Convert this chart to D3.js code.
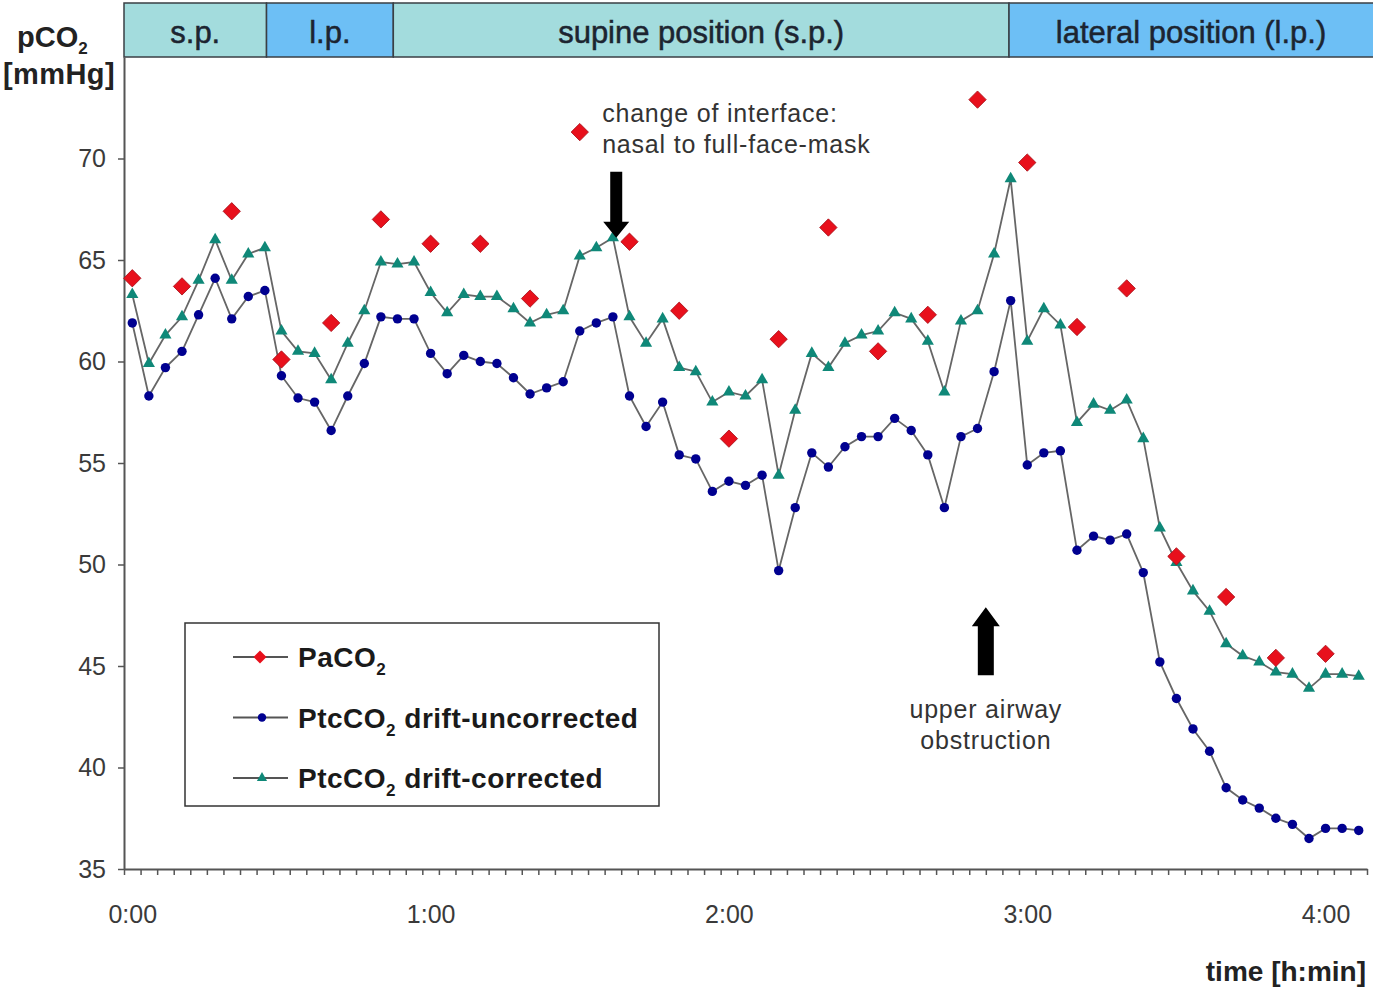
<!DOCTYPE html>
<html>
<head>
<meta charset="utf-8">
<script src="https://cdn.jsdelivr.net/npm/d3@7"></script>
<style>
body { margin: 0; background: #fff; }
svg { display: block; font-family: Arial, "Liberation Sans", sans-serif; }
</style>
</head>
<body>
<div id="wrapper"></div>
<script>
// PtcCO2 drift-uncorrected, one sample per category (200 s)
const uncorrected = [61.9, 58.3, 59.7, 60.5, 62.3, 64.1, 62.1, 63.2, 63.5, 59.3,
    58.2, 58.0, 56.6, 58.3, 59.9, 62.2, 62.1, 62.1, 60.4, 59.4,
    60.3, 60.0, 59.9, 59.2, 58.4, 58.7, 59.0, 61.5, 61.9, 62.2,
    58.3, 56.8, 58.0, 55.4, 55.2, 53.6, 54.1, 53.9, 54.4, 49.7,
    52.8, 55.5, 54.8, 55.8, 56.3, 56.3, 57.2, 56.6, 55.4, 52.8,
    56.3, 56.7, 59.5, 63.0, 54.9, 55.5, 55.6, 50.7, 51.4, 51.2,
    51.5, 49.6, 45.2, 43.4, 41.9, 40.8, 39.0, 38.4, 38.0, 37.5,
    37.2, 36.5, 37.0, 37.0, 36.9]

// PtcCO2 drift-corrected
const corrected = [63.3, 59.9, 61.3, 62.2, 64.0, 66.0, 64.0, 65.3, 65.6, 61.5,
    60.5, 60.4, 59.1, 60.9, 62.5, 64.9, 64.8, 64.9, 63.4, 62.4,
    63.3, 63.2, 63.2, 62.6, 61.9, 62.3, 62.5, 65.2, 65.6, 66.1,
    62.2, 60.9, 62.1, 59.7, 59.5, 58.0, 58.5, 58.3, 59.1, 54.4,
    57.6, 60.4, 59.7, 60.9, 61.3, 61.5, 62.4, 62.1, 61.0, 58.5,
    62.0, 62.5, 65.3, 69.0, 61.0, 62.6, 61.8, 57.0, 57.9, 57.6,
    58.1, 56.2, 51.8, 50.1, 48.7, 47.7, 46.1, 45.5, 45.2, 44.7,
    44.6, 43.9, 44.6, 44.6, 44.5]

// PaCO2 blood gas samples (sample index, value)
const paco2Index = [0, 3, 6, 9, 12, 15, 18, 21, 24, 27, 30, 33, 36, 39, 42, 45, 48, 51, 54, 57, 60, 63, 66, 69, 72]
const paco2 = [64.1, 63.7, 67.4, 60.1, 61.9, 67.0, 65.8, 65.8, 63.1, 71.3, 65.9, 62.5, 56.2, 61.1, 66.6, 60.5, 62.3, 72.9, 69.8, 61.7, 63.6, 50.4, 48.4, 45.4, 45.6]

const xTickIndex = [0, 18, 36, 54, 72]
const xTickLabels = ["0:00", "1:00", "2:00", "3:00", "4:00"]
const yTicks = [35, 40, 45, 50, 55, 60, 65, 70]

const positionLabels = ["s.p.", "l.p.", "supine position (s.p.)", "lateral position (l.p.)"]
const positionEdges = [-0.5, 8.1, 15.75, 52.9, 75.0]
const positionColors = ["#a3dcdd", "#6dbff5", "#a3dcdd", "#6dbff5"]

const seriesNames = ["PaCO", "PtcCO", "PtcCO"]
const seriesSuffix = ["", " drift-uncorrected", " drift-corrected"]

function drawChart() {
    const width = 1373
    const height = 989
    const left = 124, right = 1367, top = 57, bottom = 869

    const svg = d3.select("#wrapper")
        .append("svg")
        .attr("width", width)
        .attr("height", height)

    const xScale = d3.scaleLinear()
        .domain([-0.5, uncorrected.length - 0.5])
        .range([left, right])
    const yScale = d3.scaleLinear()
        .domain([35, 75])
        .range([bottom, top])

    // position band along the top
    const band = svg.append("g")
    const bandData = positionLabels.map((label, i) => ({
        label, x0: positionEdges[i], x1: positionEdges[i + 1], color: positionColors[i]
    }))
    band.selectAll("rect")
        .data(bandData)
        .join("rect")
        .attr("x", d => xScale(d.x0))
        .attr("y", 3)
        .attr("width", d => xScale(d.x1) - xScale(d.x0))
        .attr("height", top - 3)
        .attr("fill", d => d.color)
        .attr("stroke", "#3a3f44")
        .attr("stroke-width", 1.5)
    band.selectAll("text")
        .data(bandData)
        .join("text")
        .attr("x", d => (xScale(d.x0) + Math.min(xScale(d.x1), width)) / 2)
        .attr("y", 43)
        .attr("text-anchor", "middle")
        .attr("font-size", 31)
        .attr("fill", "#1c2430")
        .attr("stroke", "#1c2430")
        .attr("stroke-width", 0.5)
        .text(d => d.label)

    // axes
    const yAxis = svg.append("g")
        .attr("transform", `translate(${left},0)`)
        .call(d3.axisLeft(yScale).tickValues(yTicks).tickSize(6).tickSizeOuter(0).tickPadding(12))
    yAxis.select(".domain").attr("stroke", "#555").attr("stroke-width", 2)
    yAxis.selectAll(".tick line").attr("stroke", "#555").attr("stroke-width", 1.5)
    yAxis.selectAll(".tick text").attr("font-size", 25).attr("fill", "#3a3a3a")
        .attr("font-family", "Arial, 'Liberation Sans', sans-serif")

    const xAxis = svg.append("g")
        .attr("transform", `translate(0,${bottom})`)
        .call(d3.axisBottom(xScale).tickValues(d3.range(-0.5, uncorrected.length, 1))
            .tickSize(6).tickSizeOuter(0).tickFormat(""))
    xAxis.select(".domain").attr("stroke", "#555").attr("stroke-width", 2)
    xAxis.selectAll(".tick line").attr("stroke", "#555").attr("stroke-width", 1.5)

    const xLabels = svg.append("g")
        .attr("transform", `translate(0,${bottom})`)
        .call(d3.axisBottom(xScale).tickValues(xTickIndex)
            .tickFormat((d, i) => xTickLabels[i]).tickSize(0).tickPadding(36))
    xLabels.select(".domain").remove()
    xLabels.selectAll(".tick text").attr("font-size", 25).attr("fill", "#3a3a3a")
        .attr("font-family", "Arial, 'Liberation Sans', sans-serif")

    // axis titles
    const yTitle = svg.append("text")
        .attr("x", 17).attr("y", 47)
        .attr("font-size", 29).attr("font-weight", "bold").attr("fill", "#222")
    yTitle.append("tspan").text("pCO")
    yTitle.append("tspan").attr("font-size", 17).attr("dy", 7).text("2")
    svg.append("text")
        .attr("x", 3).attr("y", 84)
        .attr("font-size", 29).attr("font-weight", "bold").attr("fill", "#222")
        .attr("letter-spacing", 0.4)
        .text("[mmHg]")
    svg.append("text")
        .attr("x", 1366).attr("y", 981)
        .attr("text-anchor", "end")
        .attr("font-size", 28).attr("font-weight", "bold").attr("fill", "#222")
        .text("time [h:min]")

    // series
    const line = d3.line()
        .x((d, i) => xScale(i))
        .y(d => yScale(d))

    const plot = svg.append("g")
    plot.append("path")
        .attr("d", line(uncorrected))
        .attr("fill", "none").attr("stroke", "#666").attr("stroke-width", 1.8)
    plot.append("path")
        .attr("d", line(corrected))
        .attr("fill", "none").attr("stroke", "#666").attr("stroke-width", 1.8)

    const triangle = d3.symbol().type(d3.symbolTriangle).size(64)
    const diamond = d3.symbol().type(d3.symbolSquare).size(150)

    plot.selectAll(".blue")
        .data(uncorrected)
        .join("circle")
        .attr("class", "blue")
        .attr("cx", (d, i) => xScale(i))
        .attr("cy", d => yScale(d))
        .attr("r", 4.7)
        .attr("fill", "#000090")

    plot.selectAll(".teal")
        .data(corrected)
        .join("path")
        .attr("class", "teal")
        .attr("d", triangle)
        .attr("transform", (d, i) => `translate(${xScale(i)},${yScale(d)})`)
        .attr("fill", "#0f8878")

    plot.selectAll(".red")
        .data(paco2)
        .join("path")
        .attr("class", "red")
        .attr("d", diamond)
        .attr("transform", (d, i) => `translate(${xScale(paco2Index[i])},${yScale(d)}) rotate(45)`)
        .attr("fill", "#e8101c")
        .attr("stroke", "#a8101a")
        .attr("stroke-width", 0.8)

    // annotations
    const arrowDown = { i: 29.2, v: 66.1, len: 66 }
    const ax = xScale(arrowDown.i), ay = yScale(arrowDown.v)
    svg.append("path")
        .attr("d", `M${ax},${ay} L${ax - 13},${ay - 16} L${ax - 6},${ay - 16} L${ax - 6},${ay - arrowDown.len}
            L${ax + 6},${ay - arrowDown.len} L${ax + 6},${ay - 16} L${ax + 13},${ay - 16} Z`)
        .attr("fill", "#000")
    const note1 = svg.append("text")
        .attr("x", xScale(28.35)).attr("y", yScale(71.8))
        .attr("font-size", 25).attr("fill", "#333").attr("letter-spacing", 0.8)
    note1.append("tspan").text("change of interface:")
    note1.append("tspan").attr("x", xScale(28.35)).attr("dy", 31).text("nasal to full-face-mask")

    const arrowUp = { i: 51.5, v: 47.9, len: 68 }
    const bx = xScale(arrowUp.i), by = yScale(arrowUp.v)
    svg.append("path")
        .attr("d", `M${bx},${by} L${bx - 14},${by + 19} L${bx - 8},${by + 19} L${bx - 8},${by + arrowUp.len}
            L${bx + 8},${by + arrowUp.len} L${bx + 8},${by + 19} L${bx + 14},${by + 19} Z`)
        .attr("fill", "#000")
    const note2 = svg.append("text")
        .attr("x", bx).attr("y", 718)
        .attr("text-anchor", "middle")
        .attr("font-size", 25).attr("fill", "#333").attr("letter-spacing", 0.8)
    note2.append("tspan").text("upper airway")
    note2.append("tspan").attr("x", bx).attr("dy", 31).text("obstruction")

    // legend
    const legend = svg.append("g")
    legend.append("rect")
        .attr("x", 185).attr("y", 623)
        .attr("width", 474).attr("height", 183)
        .attr("fill", "#fff").attr("stroke", "#333").attr("stroke-width", 1.5)
    const rows = seriesNames.map((name, k) => ({ name, suffix: seriesSuffix[k], k, y: 657 + k * 60.5 }))
    const entry = legend.selectAll("g.entry")
        .data(rows)
        .join("g")
        .attr("class", "entry")
        .attr("transform", d => `translate(0,${d.y})`)
    entry.append("line")
        .attr("x1", 233).attr("x2", 288)
        .attr("stroke", "#555").attr("stroke-width", 1.8)
    entry.filter(d => d.k === 0).append("path")
        .attr("d", d3.symbol().type(d3.symbolSquare).size(85))
        .attr("transform", "translate(260,0) rotate(45)")
        .attr("fill", "#e8101c")
    entry.filter(d => d.k === 1).append("circle")
        .attr("cx", 262).attr("r", 4.2).attr("fill", "#000090")
    entry.filter(d => d.k === 2).append("path")
        .attr("d", d3.symbol().type(d3.symbolTriangle).size(45))
        .attr("transform", "translate(262,0)")
        .attr("fill", "#0f8878")
    const label = entry.append("text")
        .attr("x", 298).attr("y", 10)
        .attr("font-size", 28).attr("font-weight", "bold").attr("fill", "#1a1a1a")
        .attr("letter-spacing", 0.5)
    label.append("tspan").text(d => d.name)
    label.append("tspan").attr("font-size", 17).attr("dy", 8).text("2")
    label.append("tspan").attr("dy", -8).text(d => d.suffix)
}

drawChart()
</script>
</body>
</html>
